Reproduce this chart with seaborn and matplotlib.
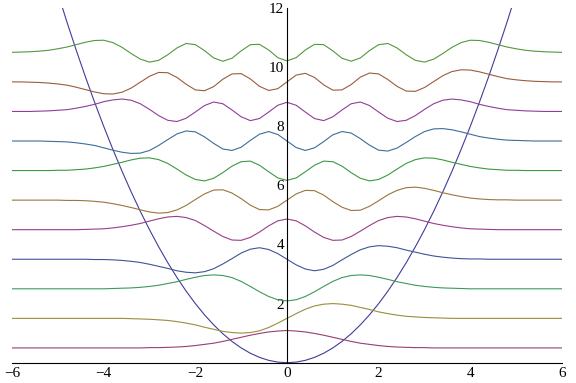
import colorsys

import matplotlib
matplotlib.use("Agg")
import matplotlib.pyplot as plt
import seaborn as sns
from matplotlib.ticker import MultipleLocator

# x positions shared by every curve
x_grid = [-6.0, -5.8, -5.6, -5.4, -5.2, -5.0, -4.8, -4.6, -4.4, -4.2, -4.0, -3.8, -3.6, -3.4, -3.2,
          -3.0, -2.8, -2.6, -2.4, -2.2, -2.0, -1.8, -1.6, -1.4, -1.2, -1.0, -0.8, -0.6, -0.4, -0.2,
          0.0,
          0.2, 0.4, 0.6, 0.8, 1.0, 1.2, 1.4, 1.6, 1.8, 2.0, 2.2, 2.4, 2.6, 2.8, 3.0,
          3.2, 3.4, 3.6, 3.8, 4.0, 4.2, 4.4, 4.6, 4.8, 5.0, 5.2, 5.4, 5.6, 5.8, 6.0]

# potential well
potential = [18.0, 16.82, 15.68, 14.58, 13.52, 12.5, 11.52, 10.58, 9.68, 8.82, 8.0, 7.22, 6.48, 5.78, 5.12,
             4.5, 3.92, 3.38, 2.88, 2.42, 2.0, 1.62, 1.28, 0.98, 0.72, 0.5, 0.32, 0.18, 0.08, 0.02,
             0.0,
             0.02, 0.08, 0.18, 0.32, 0.5, 0.72, 0.98, 1.28, 1.62, 2.0, 2.42, 2.88, 3.38, 3.92, 4.5,
             5.12, 5.78, 6.48, 7.22, 8.0, 8.82, 9.68, 10.58, 11.52, 12.5, 13.52, 14.58, 15.68, 16.82, 18.0]

# wave functions, each drawn on its own energy level
psi0 = [0.5, 0.5, 0.5, 0.5, 0.5, 0.5, 0.5, 0.5, 0.5, 0.5, 0.5, 0.5, 0.5, 0.5, 0.5,
        0.51, 0.51, 0.52, 0.53, 0.55, 0.58, 0.62, 0.66, 0.72, 0.79, 0.86, 0.93, 0.99, 1.04, 1.07,
        1.09,
        1.07, 1.04, 0.99, 0.93, 0.86, 0.79, 0.72, 0.66, 0.62, 0.58, 0.55, 0.53, 0.52, 0.51, 0.51,
        0.5, 0.5, 0.5, 0.5, 0.5, 0.5, 0.5, 0.5, 0.5, 0.5, 0.5, 0.5, 0.5, 0.5, 0.5]
psi1 = [1.5, 1.5, 1.5, 1.5, 1.5, 1.5, 1.5, 1.5, 1.5, 1.5, 1.5, 1.5, 1.5,
        1.49, 1.48, 1.47, 1.45, 1.43, 1.39, 1.34, 1.28, 1.2, 1.13, 1.06, 1.02, 1.0, 1.02, 1.08, 1.19, 1.34,
        1.5,
        1.66, 1.81, 1.92, 1.98, 2.0, 1.98, 1.94, 1.87, 1.8, 1.72, 1.66, 1.61, 1.57, 1.55, 1.53, 1.52, 1.51,
        1.5, 1.5, 1.5, 1.5, 1.5, 1.5, 1.5, 1.5, 1.5, 1.5, 1.5, 1.5, 1.5]
psi2 = [2.5, 2.5, 2.5, 2.5, 2.5, 2.5, 2.5, 2.5, 2.5, 2.5, 2.5,
        2.51, 2.52, 2.53, 2.55, 2.58, 2.62, 2.68, 2.74, 2.82, 2.89, 2.95, 2.97, 2.95, 2.88, 2.75, 2.58,
        2.40, 2.24, 2.13,
        2.09,
        2.13, 2.24, 2.40, 2.58, 2.75, 2.88, 2.95, 2.97, 2.95, 2.89, 2.82, 2.74, 2.68, 2.62, 2.58, 2.55,
        2.53, 2.52, 2.51,
        2.5, 2.5, 2.5, 2.5, 2.5, 2.5, 2.5, 2.5, 2.5, 2.5, 2.5]
psi3 = [3.5, 3.5, 3.5, 3.5, 3.5, 3.5, 3.5, 3.5, 3.5,
        3.49, 3.49, 3.48, 3.46, 3.43, 3.39, 3.33, 3.26, 3.19, 3.11, 3.06, 3.04, 3.08, 3.18, 3.34, 3.52,
        3.71, 3.84, 3.89, 3.83, 3.69,
        3.5,
        3.31, 3.17, 3.11, 3.16, 3.29, 3.48, 3.66, 3.82, 3.92, 3.96, 3.94, 3.89, 3.81, 3.74, 3.67, 3.61,
        3.57, 3.54, 3.52, 3.51, 3.51,
        3.5, 3.5, 3.5, 3.5, 3.5, 3.5, 3.5, 3.5, 3.5]
psi4 = [4.5, 4.5, 4.5, 4.5, 4.5, 4.5, 4.5, 4.5,
        4.51, 4.52, 4.53, 4.56, 4.60, 4.65, 4.71, 4.79, 4.87, 4.93, 4.95, 4.91, 4.81, 4.64, 4.45, 4.27,
        4.15, 4.14, 4.24, 4.42, 4.63, 4.80,
        4.86,
        4.80, 4.63, 4.42, 4.24, 4.14, 4.15, 4.27, 4.45, 4.64, 4.81, 4.91, 4.95, 4.93, 4.87, 4.79, 4.71,
        4.65, 4.60, 4.56, 4.53, 4.52, 4.51,
        4.5, 4.5, 4.5, 4.5, 4.5, 4.5, 4.5, 4.5]
psi5 = [5.5, 5.5, 5.5, 5.5, 5.5, 5.5,
        5.49, 5.49, 5.48, 5.46, 5.43, 5.38, 5.32, 5.25, 5.17, 5.10, 5.06, 5.08, 5.17, 5.32, 5.52, 5.71,
        5.84, 5.85, 5.74, 5.55, 5.33, 5.18, 5.17, 5.29,
        5.5,
        5.71, 5.83, 5.82, 5.67, 5.45, 5.26, 5.15, 5.16, 5.29, 5.48, 5.68, 5.83, 5.92, 5.94, 5.90, 5.83,
        5.75, 5.68, 5.62, 5.57, 5.54, 5.52, 5.51, 5.51,
        5.5, 5.5, 5.5, 5.5, 5.5, 5.5]
psi6 = [6.5, 6.5, 6.5, 6.5, 6.5,
        6.51, 6.51, 6.53, 6.55, 6.59, 6.64, 6.71, 6.78, 6.86, 6.92, 6.93, 6.87, 6.74, 6.55, 6.35, 6.20,
        6.15, 6.24, 6.43, 6.65, 6.80, 6.82, 6.68, 6.46, 6.25,
        6.17,
        6.25, 6.46, 6.68, 6.82, 6.80, 6.65, 6.43, 6.24, 6.15, 6.20, 6.35, 6.55, 6.74, 6.87, 6.93, 6.92,
        6.86, 6.78, 6.71, 6.64, 6.59, 6.55, 6.53, 6.51, 6.51,
        6.5, 6.5, 6.5, 6.5, 6.5]
psi7 = [7.5, 7.5, 7.5, 7.5,
        7.49, 7.48, 7.47, 7.44, 7.40, 7.35, 7.27, 7.19, 7.12, 7.08, 7.09, 7.18, 7.35, 7.55, 7.74, 7.84,
        7.81, 7.64, 7.42, 7.23, 7.18, 7.29, 7.52, 7.73, 7.82, 7.72,
        7.5,
        7.28, 7.18, 7.27, 7.48, 7.71, 7.82, 7.77, 7.58, 7.36, 7.19, 7.16, 7.26, 7.45, 7.65, 7.82, 7.91,
        7.92, 7.88, 7.81, 7.73, 7.65, 7.60, 7.56, 7.53, 7.52, 7.51,
        7.5, 7.5, 7.5, 7.5]
psi8 = [8.5, 8.5, 8.5,
        8.51, 8.52, 8.54, 8.56, 8.61, 8.67, 8.74, 8.83, 8.89, 8.92, 8.88, 8.76, 8.57, 8.36, 8.20, 8.16,
        8.27, 8.48, 8.70, 8.82, 8.76, 8.55, 8.32, 8.19, 8.26, 8.48, 8.71,
        8.81,
        8.71, 8.48, 8.26, 8.19, 8.32, 8.55, 8.76, 8.82, 8.70, 8.48, 8.27, 8.16, 8.20, 8.36, 8.57, 8.76,
        8.88, 8.92, 8.89, 8.83, 8.74, 8.67, 8.61, 8.56, 8.54, 8.52, 8.51,
        8.5, 8.5, 8.5]
psi9 = [9.5, 9.5, 9.49, 9.48, 9.46, 9.43, 9.39, 9.32, 9.24, 9.16, 9.10, 9.09, 9.15, 9.29, 9.49,
        9.69, 9.82, 9.81, 9.65, 9.42, 9.23, 9.20, 9.34, 9.59, 9.77, 9.78, 9.60, 9.35, 9.21, 9.27,
        9.5,
        9.73, 9.79, 9.65, 9.40, 9.22, 9.23, 9.41, 9.66, 9.80, 9.77, 9.58, 9.35, 9.19, 9.18, 9.31,
        9.51, 9.71, 9.85, 9.91, 9.90, 9.84, 9.76, 9.68, 9.61, 9.57, 9.54, 9.52, 9.51, 9.5, 9.5]
psi10 = [10.5, 10.51, 10.52, 10.54, 10.57, 10.62, 10.68, 10.76, 10.84, 10.90, 10.91, 10.83, 10.67, 10.46,
         10.27, 10.17, 10.23, 10.42, 10.65, 10.80, 10.76, 10.56, 10.31, 10.20, 10.30, 10.55, 10.76,
         10.77, 10.58, 10.32,
         10.21,
         10.32, 10.58, 10.77, 10.76, 10.55, 10.30, 10.20, 10.31, 10.56, 10.76, 10.80, 10.65, 10.42,
         10.23, 10.17, 10.27, 10.46, 10.67, 10.83, 10.91, 10.90, 10.84, 10.76, 10.68, 10.62, 10.57,
         10.54, 10.52, 10.51, 10.5]

levels = [psi0, psi1, psi2, psi3, psi4, psi5, psi6, psi7, psi8, psi9, psi10]

# Mathematica-style default plot colours (hue steps, s=v=0.6)
well_hue = 0.67
level_hues = [0.906068, 0.145136, 0.384204, 0.623272, 0.86234, 0.101408,
              0.340476, 0.579544, 0.818612, 0.0576796, 0.296748]


def mma_color(h):
    return colorsys.hsv_to_rgb(h, 0.6, 0.6)


sns.set_style("white")
plt.rcParams["font.family"] = ["Liberation Serif", "DejaVu Serif"]

fig = plt.figure(figsize=(5.76, 3.83), dpi=100)
ax = fig.add_axes([12 / 576, (383 - 362.7) / 383, 550 / 576, (362.7 - 8) / 383])

sns.lineplot(x=x_grid, y=potential, color=mma_color(well_hue), linewidth=0.8, ax=ax)
for ys, h in zip(levels, level_hues):
    sns.lineplot(x=x_grid, y=ys, color=mma_color(h), linewidth=0.8, ax=ax)

ax.set_xlim(-6, 6)
ax.set_ylim(0, 12)

# axes through the origin, Mathematica style
ax.spines["left"].set_position(("data", 0))
ax.spines["top"].set_visible(False)
ax.spines["right"].set_visible(False)
for side in ["left", "bottom"]:
    ax.spines[side].set_color("black")
    ax.spines[side].set_linewidth(0.8)

ax.set_xticks([-6, -4, -2, 0, 2, 4, 6])
ax.set_yticks([2, 4, 6, 8, 10, 12])
ax.xaxis.set_minor_locator(MultipleLocator(0.5))
ax.yaxis.set_minor_locator(MultipleLocator(0.5))
ax.tick_params(which="both", direction="in", colors="black", labelsize=11, width=0.7)
ax.tick_params(which="major", length=3.1)
ax.tick_params(which="minor", length=1.7)
ax.tick_params(axis="x", pad=3)
ax.tick_params(axis="y", pad=2)
ax.set_xlabel("")
ax.set_ylabel("")

fig.savefig("out.png", dpi=100)
